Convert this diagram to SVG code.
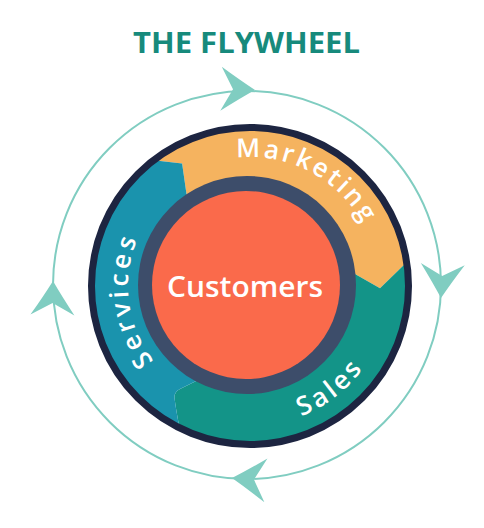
<svg xmlns="http://www.w3.org/2000/svg" width="484" height="528" viewBox="0 0 484 528">
  <style>
    .title { font-family: "Open Sans", "Liberation Sans", sans-serif; font-weight: 700; font-size: 28px; fill: #178a7c; }
    .lbl { font-family: "Open Sans", "Liberation Sans", sans-serif; font-weight: 600; font-size: 26px; fill: #ffffff; }
    .center { font-family: "Open Sans", "Liberation Sans", sans-serif; font-weight: 600; font-size: 28px; fill: #ffffff; }
    .cycle { fill: none; stroke: #80cdc1; stroke-width: 2; }
    .head { fill: #80cdc1; }
  </style>
  <defs>
    <path id="arrowhead" d="M0,0 Q-15,-9 -34,-22 L-22,0 L-34,22 Q-15,9 0,0 Z"/>
    <path id="p-marketing" d="M236.5,157.7 A129,129 0 0 1 371.2,241.9"/>
    <path id="p-sales" d="M301.3,416.3 A140,140 0 0 0 371.2,356"/>
    <path id="p-services" d="M153.9,361.1 A122,122 0 0 1 144.3,225"/>
  </defs>

  <rect width="484" height="528" fill="#ffffff"/>

  <g id="title">
    <text class="title" x="246.5" y="53" text-anchor="middle" textLength="227" lengthAdjust="spacingAndGlyphs">THE FLYWHEEL</text>
  </g>

  <g id="connectors">
    <circle class="cycle" cx="247" cy="285" r="194"/>
    <use href="#arrowhead" class="head" transform="translate(255,90) rotate(2)"/>
    <use href="#arrowhead" class="head" transform="translate(441,298) rotate(93)"/>
    <use href="#arrowhead" class="head" transform="translate(232,478) rotate(184)"/>
    <use href="#arrowhead" class="head" transform="translate(53,281) rotate(-89)"/>
  </g>

  <g id="marketing">
    <path fill="#f5b35f" d="M151.5,159.9 A160,160 0 0 1 408.0,261.0 L380.0,288.3 L348.8,270.4 A100,100 0 0 0 188.4,207.2 L182.1,163.6 Z"/>
  </g>
  <g id="sales">
    <path fill="#139488" d="M408.0,261.0 A160,160 0 0 1 179.9,429.8 Q176,410 174.5,398 Q174,392 180,389 L206.2,375.9 A100,100 0 0 0 348.8,270.4 L380.0,288.3 Z"/>
  </g>
  <g id="services">
    <path fill="#1a93ad" d="M179.9,429.8 A160,160 0 0 1 151.5,159.9 L182.1,163.6 L188.4,207.2 A100,100 0 0 0 206.2,375.9 L180,389 Q174,392 174.5,398 Q176,410 179.9,429.8 Z"/>
  </g>

  <g id="rim">
    <circle cx="250" cy="286" r="158.5" fill="none" stroke="#1d2541" stroke-width="7"/>
  </g>

  <g id="labels">
    <text class="lbl"><textPath href="#p-marketing" textLength="150" lengthAdjust="spacing">Marketing</textPath></text>
    <text class="lbl"><textPath href="#p-sales" textLength="78" lengthAdjust="spacing">Sales</textPath></text>
    <text class="lbl"><textPath href="#p-services" textLength="128" lengthAdjust="spacing">Services</textPath></text>
  </g>

  <g id="customers">
    <circle cx="247" cy="285" r="109" fill="#3d4d6a"/>
    <circle cx="246" cy="285" r="94" fill="#fa6a4b"/>
    <text class="center" x="245" y="297" text-anchor="middle" textLength="156" lengthAdjust="spacingAndGlyphs">Customers</text>
  </g>
</svg>
